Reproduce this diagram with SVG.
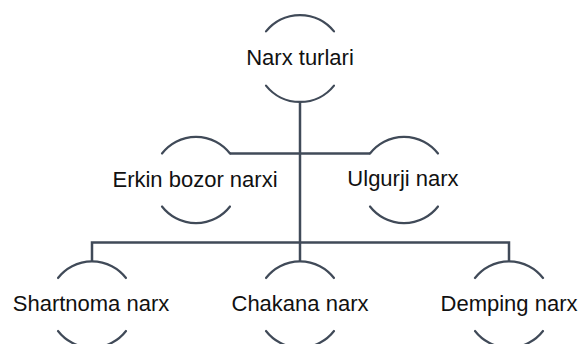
<svg xmlns="http://www.w3.org/2000/svg" width="582" height="344" viewBox="0 0 582 344">
<style>
.arc{fill:none;stroke:#404a58;stroke-width:2.2;stroke-linecap:round}
.con{fill:none;stroke:#404a58;stroke-width:2.5}
text{font-family:"Liberation Sans",Arial,sans-serif;font-size:22px;fill:#111;text-anchor:middle}
</style>
<rect width="582" height="344" fill="#fff"/>
<g id="connectors">
<path class="con" d="M300 102 V261.5"/>
<path class="con" d="M230 153.5 H370"/>
<path class="con" d="M92 261.5 V242.5 H509 V261.5"/>
</g>
<g id="n-narx-turlari">
<path class="arc" d="M266 31.4 A43.5 43.5 0 0 1 334 31.4"/>
<path class="arc" d="M266 85.6 A43.5 43.5 0 0 0 334 85.6"/>
<text x="300" y="65">Narx turlari</text>
</g>
<g id="n-erkin">
<path class="arc" d="M162 153.5 A43 43 0 0 1 230 153.5"/>
<path class="arc" d="M162 206.5 A43 43 0 0 0 230 206.5"/>
<text x="195" y="187">Erkin bozor narxi</text>
</g>
<g id="n-ulgurji">
<path class="arc" d="M370 153.5 A43 43 0 0 1 438 153.5"/>
<path class="arc" d="M370 206.5 A43 43 0 0 0 438 206.5"/>
<text x="403" y="186">Ulgurji narx</text>
</g>
<g id="n-shartnoma">
<path class="arc" d="M58 278 A43 43 0 0 1 126 278"/>
<path class="arc" d="M58 331 A43 43 0 0 0 126 331"/>
<text x="91" y="311">Shartnoma narx</text>
</g>
<g id="n-chakana">
<path class="arc" d="M266 278 A43 43 0 0 1 334 278"/>
<path class="arc" d="M266 331 A43 43 0 0 0 334 331"/>
<text x="300" y="311">Chakana narx</text>
</g>
<g id="n-demping">
<path class="arc" d="M475 278 A43 43 0 0 1 543 278"/>
<path class="arc" d="M475 331 A43 43 0 0 0 543 331"/>
<text x="509" y="311">Demping narx</text>
</g>
</svg>
